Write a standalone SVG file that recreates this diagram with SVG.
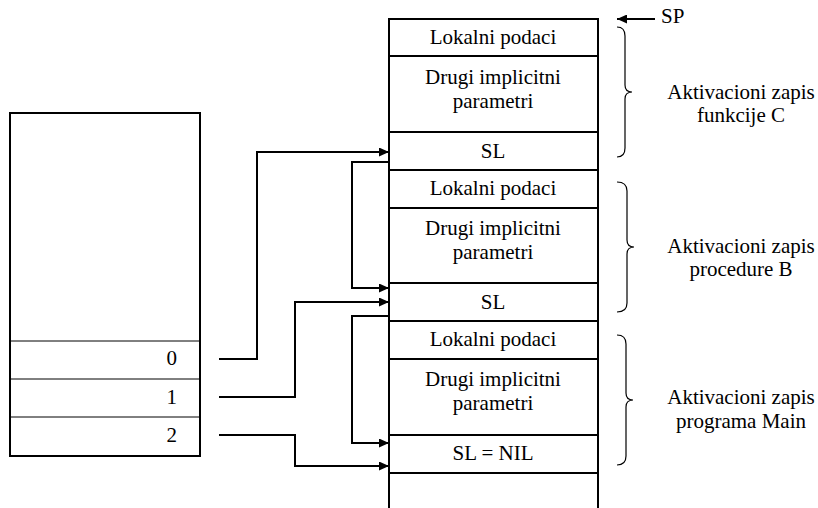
<svg xmlns="http://www.w3.org/2000/svg" width="818" height="508" viewBox="0 0 818 508">
<style>
text{font-family:'Liberation Serif','Times New Roman','DejaVu Serif',serif;font-size:21px;fill:#000}
.c{text-anchor:middle}
.e{text-anchor:end}
.box{fill:#fff;stroke:#000;stroke-width:2}
.thin{stroke:#000;stroke-width:1;fill:none}
.sep{stroke:#000;stroke-width:2;fill:none}
.conn{fill:none;stroke:#000;stroke-width:2}
.brace{fill:none;stroke:#000;stroke-width:1.2}
</style>
<defs>
<marker id="arr" markerUnits="userSpaceOnUse" markerWidth="10" markerHeight="9" refX="10" refY="4.5" orient="auto">
<path d="M0,0 L10,4.5 L0,9 z" fill="#000"/>
</marker>
</defs>
<rect width="818" height="508" fill="#fff"/>

<g font-family="Liberation Serif, Times New Roman, DejaVu Serif, serif">
<g id="display">
<rect class="box" x="10" y="113" width="190" height="343"/>
<line class="thin" x1="10" y1="341" x2="200" y2="341"/>
<line class="thin" x1="10" y1="379" x2="200" y2="379"/>
<line class="thin" x1="10" y1="417" x2="200" y2="417"/>
<text class="e" x="177" y="365">0</text>
<text class="e" x="177" y="404">1</text>
<text class="e" x="177" y="442">2</text>
</g>

<g id="stack">
<path class="sep" d="M389,509 V19 H598 V509"/>
<line class="sep" x1="389" y1="56" x2="598" y2="56"/>
<line class="sep" x1="389" y1="132" x2="598" y2="132"/>
<line class="sep" x1="389" y1="170" x2="598" y2="170"/>
<line class="sep" x1="389" y1="208" x2="598" y2="208"/>
<line class="sep" x1="389" y1="283" x2="598" y2="283"/>
<line class="sep" x1="389" y1="321" x2="598" y2="321"/>
<line class="sep" x1="389" y1="359" x2="598" y2="359"/>
<line class="sep" x1="389" y1="435" x2="598" y2="435"/>
<line class="sep" x1="389" y1="473" x2="598" y2="473"/>
</g>

<g id="record-C">
<text class="c" x="493" y="44">Lokalni podaci</text>
<text class="c" x="493" y="84">Drugi implicitni</text>
<text class="c" x="493" y="108">parametri</text>
<text class="c" x="493" y="158">SL</text>
<path class="brace" d="M617,27 Q625,27 625,36 V85 Q625,92 632,92 Q625,92 625,99 V148 Q625,157 617,157"/>
<text class="c" x="741" y="99">Aktivacioni zapis</text>
<text class="c" x="741" y="122">funkcije C</text>
</g>

<g id="record-B">
<text class="c" x="493" y="195">Lokalni podaci</text>
<text class="c" x="493" y="235">Drugi implicitni</text>
<text class="c" x="493" y="259">parametri</text>
<text class="c" x="493" y="309">SL</text>
<path class="brace" d="M617,182 Q627,182 627,191 V240 Q627,247 634,247 Q627,247 627,254 V303 Q627,312 617,312"/>
<text class="c" x="741" y="253">Aktivacioni zapis</text>
<text class="c" x="741" y="276">procedure B</text>
</g>

<g id="record-Main">
<text class="c" x="493" y="346">Lokalni podaci</text>
<text class="c" x="493" y="386">Drugi implicitni</text>
<text class="c" x="493" y="410">parametri</text>
<text class="c" x="493" y="460">SL = NIL</text>
<path class="brace" d="M617,335 Q626,335 626,344 V393 Q626,400 633,400 Q626,400 626,407 V456 Q626,465 617,465"/>
<text class="c" x="741" y="404">Aktivacioni zapis</text>
<text class="c" x="741" y="428">programa Main</text>
</g>

<g id="sp">
<line class="conn" x1="655" y1="19" x2="617" y2="19" marker-end="url(#arr)"/>
<text x="661" y="23">SP</text>
</g>
</g>

<g id="connectors">
<path class="conn" d="M219,359 H257 V152 H389" marker-end="url(#arr)"/>
<path class="conn" d="M219,397 H295 V302 H389" marker-end="url(#arr)"/>
<path class="conn" d="M219,435 H295 V466 H389" marker-end="url(#arr)"/>
<path class="conn" d="M389,162 H352 V288 H389" marker-end="url(#arr)"/>
<path class="conn" d="M389,316 H352 V443 H389" marker-end="url(#arr)"/>
</g>
</svg>
